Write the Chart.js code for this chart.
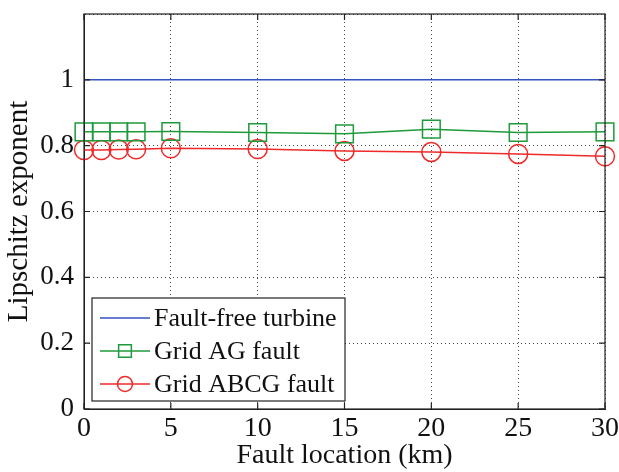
<!DOCTYPE html>
<html>
<head>
  <title>Lipschitz exponent vs fault location</title>
  <style>
    body { margin: 0; background: #fff; }
    canvas { display: block; }
  </style>
</head>
<body>
  <canvas id="chart" width="619" height="472"></canvas>

  <script src="https://cdn.jsdelivr.net/npm/chart.js"></script>
  <script>
    // values
    const faultLocation = [0, 1, 2, 3, 5, 10, 15, 20, 25, 30];
    const faultFree = [1, 1, 1, 1, 1, 1, 1, 1, 1, 1];
    const gridAG = [0.842, 0.842, 0.842, 0.842, 0.843, 0.840, 0.836, 0.850, 0.840, 0.842];
    const gridABCG = [0.787, 0.787, 0.788, 0.789, 0.792, 0.790, 0.784, 0.781, 0.775, 0.768];
    const seriesNames = ['Fault-free turbine', 'Grid AG fault', 'Grid ABCG fault'];
    const xTicks = [0, 5, 10, 15, 20, 25, 30];
    const yTicks = [0, 0.2, 0.4, 0.6, 0.8, 1];

    const FONT = "'Liberation Serif', 'Times New Roman', serif";
    const toPoints = ys => faultLocation.map((x, i) => ({ x: x, y: ys[i] }));

    // box frame, inward ticks and the legend, like matlab draws them
    const matlabFrame = {
      id: 'matlabFrame',
      afterDatasetsDraw(chart) {
        const ctx = chart.ctx;
        const a = chart.chartArea;
        const xs = chart.scales.x, ys = chart.scales.y;
        ctx.save();
        ctx.strokeStyle = '#222';
        ctx.lineWidth = 1.2;
        ctx.strokeRect(a.left, a.top, a.right - a.left, a.bottom - a.top);
        ctx.beginPath();
        xTicks.forEach(v => {
          const px = xs.getPixelForValue(v);
          ctx.moveTo(px, a.bottom); ctx.lineTo(px, a.bottom - 6);
          ctx.moveTo(px, a.top); ctx.lineTo(px, a.top + 6);
        });
        yTicks.forEach(v => {
          const py = ys.getPixelForValue(v);
          ctx.moveTo(a.left, py); ctx.lineTo(a.left + 6, py);
          ctx.moveTo(a.right, py); ctx.lineTo(a.right - 6, py);
        });
        ctx.stroke();

        // legend box, lower left
        const lx = a.left + 8, lw = 253, lh = 103;
        const ly = a.bottom - 8 - lh;
        ctx.fillStyle = '#fff';
        ctx.fillRect(lx, ly, lw, lh);
        ctx.strokeStyle = '#222';
        ctx.lineWidth = 1.2;
        ctx.strokeRect(lx, ly, lw, lh);
        const legendRadius = { rect: 9, circle: 7.5 };
        chart.data.datasets.forEach((ds, i) => {
          const cy = ly + 20 + i * 33;
          ctx.strokeStyle = ds.borderColor;
          ctx.lineWidth = 1.5;
          ctx.beginPath();
          ctx.moveTo(lx + 8, cy); ctx.lineTo(lx + 58, cy);
          ctx.stroke();
          if (ds.pointRadius > 0) {
            ctx.fillStyle = 'rgba(0,0,0,0)';
            Chart.helpers.drawPoint(ctx, {
              pointStyle: ds.pointStyle,
              radius: legendRadius[ds.pointStyle],
              borderWidth: 1.5,
              rotation: 0
            }, lx + 33, cy);
          }
          ctx.fillStyle = '#111';
          ctx.font = '26px ' + FONT;
          ctx.textAlign = 'left';
          ctx.textBaseline = 'middle';
          ctx.fillText(ds.label, lx + 62, cy + 1);
        });
        ctx.restore();
      }
    };

    new Chart(document.getElementById('chart').getContext('2d'), {
      type: 'line',
      data: {
        datasets: [{
          label: seriesNames[0],
          data: toPoints(faultFree),
          borderColor: '#3352c4',
          borderWidth: 1.5,
          pointRadius: 0
        }, {
          label: seriesNames[1],
          data: toPoints(gridAG),
          borderColor: '#1f9a3a',
          borderWidth: 1.5,
          pointStyle: 'rect',
          pointRadius: 12.5,
          pointBorderWidth: 1.5,
          pointBackgroundColor: 'rgba(0,0,0,0)',
          clip: false
        }, {
          label: seriesNames[2],
          data: toPoints(gridABCG),
          borderColor: '#ee2a2a',
          borderWidth: 1.5,
          pointStyle: 'circle',
          pointRadius: 9.5,
          pointBorderWidth: 1.5,
          pointBackgroundColor: 'rgba(0,0,0,0)',
          clip: false
        }]
      },
      options: {
        responsive: false,
        animation: false,
        layout: { padding: { left: 0, right: 13, top: 11, bottom: 0 } },
        plugins: {
          legend: { display: false },
          tooltip: { enabled: false }
        },
        scales: {
          x: {
            type: 'linear',
            min: 0,
            max: 30,
            afterBuildTicks: s => { s.ticks = xTicks.map(v => ({ value: v })); },
            afterFit: s => { s.height = 63; s.paddingLeft = 0; s.paddingRight = 0; },
            grid: { color: '#444', drawTicks: false, lineWidth: 1 },
            border: { dash: [1, 3], color: '#222' },
            ticks: {
              color: '#111',
              padding: 3,
              maxRotation: 0,
              font: { family: FONT, size: 28 }
            },
            title: {
              display: true,
              text: 'Fault location (km)',
              color: '#111',
              padding: { top: 0, bottom: 0 },
              font: { family: FONT, size: 28 }
            }
          },
          y: {
            min: 0,
            max: 1.2,
            afterBuildTicks: s => { s.ticks = yTicks.concat([1.2]).map(v => ({ value: v })); },
            afterFit: s => { s.width = 84; s.paddingTop = 0; s.paddingBottom = 0; },
            grid: { color: '#444', drawTicks: false, lineWidth: 1 },
            border: { dash: [1, 3], color: '#222' },
            ticks: {
              color: '#111',
              padding: 10,
              font: { family: FONT, size: 27 },
              callback: v => (v > 1.05 ? '' : String(Number(v.toFixed(1))))
            },
            title: {
              display: true,
              text: 'Lipschitz exponent',
              color: '#111',
              padding: { top: 2, bottom: 0 },
              font: { family: FONT, size: 29 }
            }
          }
        }
      },
      plugins: [matlabFrame]
    });
  </script>
</body>
</html>
